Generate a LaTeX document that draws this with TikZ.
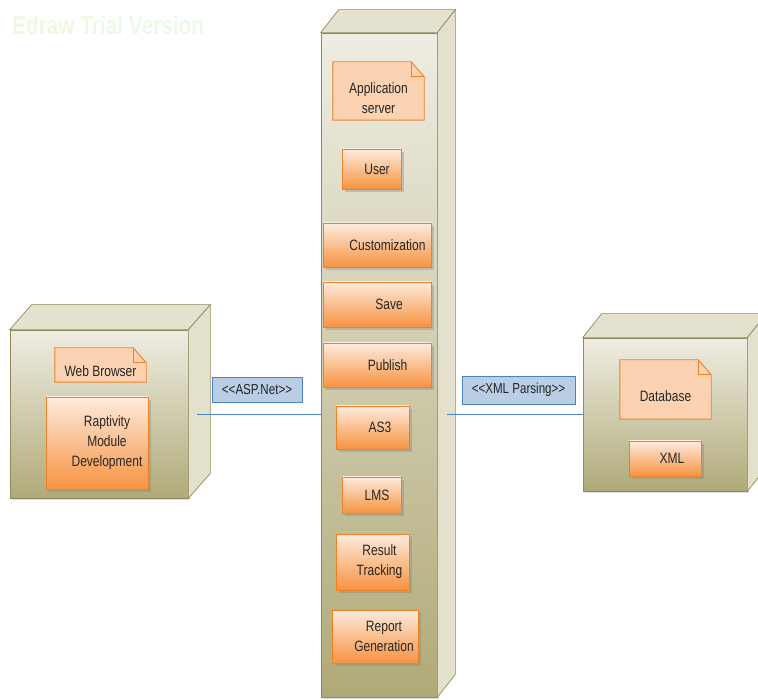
\documentclass[tikz,border=0pt]{standalone}
\usepackage{fontspec}
\setmainfont{Liberation Sans}[FakeStretch=0.8]
\usetikzlibrary{calc,shadows}
\definecolor{edge}{HTML}{8E8A5C}
\definecolor{fronttop}{HTML}{EFEDE3}
\definecolor{frontbot}{HTML}{B0AA78}
\definecolor{topface}{HTML}{E4E1CF}
\definecolor{sideface}{HTML}{E3E0CC}
\definecolor{orangeedge}{HTML}{EE8126}
\definecolor{orangetop}{HTML}{FDEBDD}
\definecolor{orangebot}{HTML}{F79341}
\definecolor{notefill}{HTML}{FBD3B3}
\definecolor{lblfill}{HTML}{B9CDE5}
\definecolor{lbledge}{HTML}{4F81BD}
\definecolor{conncol}{HTML}{4F81BD}
\definecolor{textcol}{HTML}{262626}
\definecolor{wmark}{HTML}{EEF9E4}
\tikzset{
  face/.style={draw=edge, line width=0.7pt},
  frontface/.style={face, rectangle, top color=fronttop, bottom color=frontbot, inner sep=0pt,
    drop shadow={opacity=0.25, shadow xshift=2pt, shadow yshift=-2pt}},
  obox/.style={rectangle, draw=orangeedge, line width=0.9pt, top color=orangetop, bottom color=orangebot,
    inner sep=0pt, drop shadow={opacity=0.35, shadow xshift=3pt, shadow yshift=-3pt}},
  notebox/.style={rectangle, inner sep=0pt},
  lbl/.style={rectangle, draw=lbledge, fill=lblfill, line width=0.8pt, inner sep=0pt,
    font=\fontsize{14.5}{20}\selectfont, text=textcol},
  txt/.style={font=\fontsize{15}{20}\selectfont, text=textcol, align=center, inner sep=0pt},
  conn/.style={draw=conncol, line width=0.8pt}
}
\newcommand\dognote[1]{%
  \filldraw[fill=notefill, draw=orangeedge, line width=0.9pt]
    (#1.north west) -- ([xshift=-13pt]#1.north east) -- ([yshift=-15pt]#1.north east)
    -- (#1.south east) -- (#1.south west) -- cycle;
  \draw[orangeedge, line width=0.9pt] ([xshift=-13pt]#1.north east) -- ([xshift=-13pt,yshift=-15pt]#1.north east)
    -- ([yshift=-15pt]#1.north east);
}
\newcommand\cube[3]{% name, dx, dy
  \filldraw[face, fill=topface] (#1.north west) -- ++(#2,-#3) -- ($(#1.north east)+(#2,-#3)$) -- (#1.north east) -- cycle;
  \filldraw[face, fill=sideface] (#1.north east) -- ++(#2,-#3) -- ($(#1.south east)+(#2,-#3)$) -- (#1.south east) -- cycle;
}
\begin{document}
\begin{tikzpicture}[x=1pt, y=-1pt]
\useasboundingbox (0,0) rectangle (758,700);
\clip (0,0) rectangle (758,700);

% watermark
\node[font=\bfseries\fontsize{26}{26}\selectfont, text=wmark, anchor=west, inner sep=0pt] (wm) at (12,25) {Edraw Trial Version};

% ---------- left node: web browser ----------
\node[frontface, minimum width=178, minimum height=168] (wb) at (99,414) {};
\cube{wb}{22}{25}
\node[notebox, minimum width=91, minimum height=34] (wbn) at (100.5,365) {};
\dognote{wbn}
\node[txt] (wbt) at ([yshift=-6pt]wbn.center) {Web Browser};
\node[obox, minimum width=102, minimum height=92,
  label={[txt, xshift=10pt]center:{Raptivity\\Module\\Development}}] (rap) at (97,443) {};

% ---------- center node: application server ----------
\node[frontface, minimum width=116, minimum height=664] (srv) at (379,365) {};
\cube{srv}{18}{23}
\node[notebox, minimum width=91, minimum height=58] (appn) at (378.5,91) {};
\dognote{appn}
\node[txt] (appt) at ([yshift=-7pt]appn.center) {Application\\server};

\node[obox, minimum width=59, minimum height=40, label={[txt, xshift=5.5pt]center:User}] (user) at (371.5,169) {};
\node[obox, minimum width=108, minimum height=44, label={[txt, xshift=10.5pt]center:Customization}] (cust) at (377,245) {};
\node[obox, minimum width=108, minimum height=45, label={[txt, xshift=12pt]center:Save}] (save) at (377,304.5) {};
\node[obox, minimum width=108, minimum height=44, label={[txt, xshift=10.5pt]center:Publish}] (pub) at (377,365) {};
\node[obox, minimum width=73, minimum height=43, label={[txt, xshift=7.5pt]center:AS3}] (as3) at (372.5,427.5) {};
\node[obox, minimum width=59, minimum height=36, label={[txt, xshift=5.5pt]center:LMS}] (lms) at (371.5,495) {};
\node[obox, minimum width=73, minimum height=56, label={[txt, xshift=7pt]center:{Result\\Tracking}}] (res) at (372.5,562) {};
\node[obox, minimum width=86, minimum height=53, label={[txt, xshift=9pt]center:{Report\\Generation}}] (rep) at (375,636.5) {};

% ---------- right node: database ----------
\node[frontface, minimum width=164, minimum height=153] (db) at (665,414.5) {};
\cube{db}{19}{24}
\node[notebox, minimum width=91, minimum height=59] (dbn) at (665.5,389.5) {};
\dognote{dbn}
\node[txt] (dbt) at ([yshift=-7pt]dbn.center) {Database};
\node[obox, minimum width=72, minimum height=35, label={[txt, xshift=7pt]center:XML}] (xml) at (665,458.5) {};

% ---------- connectors ----------
\coordinate (wbside) at ($(wb.east)+(9,0)$);
\coordinate (srvside) at ($(srv.east |- db.west)+(10,0)$);
\draw[conn] (wbside) -- (srv.west |- wbside);
\draw[conn] (srvside) -- (db.west);

\node[lbl, minimum width=90, minimum height=25] (asp) at (257,389.5) {{<}{<}ASP.Net{>}{>}};
\node[lbl, minimum width=113, minimum height=28] (xmlp) at (518.5,390) {{<}{<}XML Parsing{>}{>}};
\end{tikzpicture}
\end{document}
